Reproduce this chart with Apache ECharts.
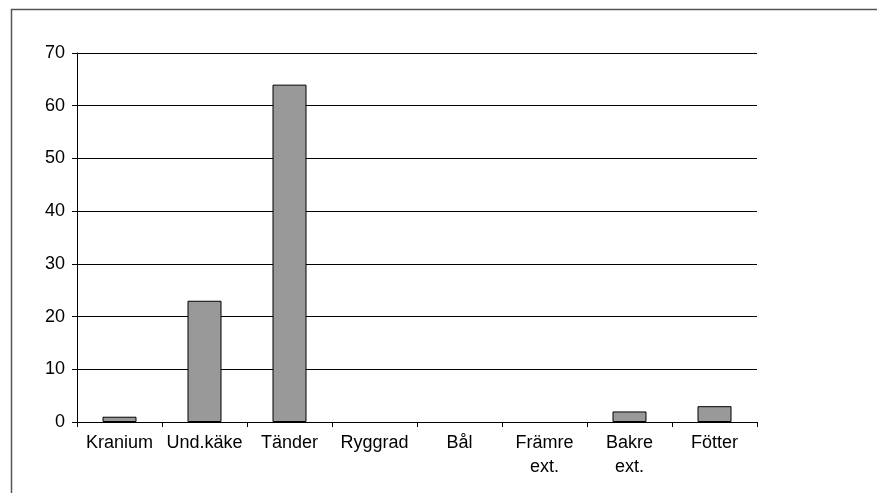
<!DOCTYPE html>
<html>
<head>
<meta charset="utf-8">
<script src="https://cdn.jsdelivr.net/npm/echarts@6/dist/echarts.min.js"></script>
<style>
  html, body { margin: 0; padding: 0; background: #fff; }
  #chart { width: 877px; height: 493px; }
</style>
</head>
<body>
<div id="chart"></div>
<script>
// data
const categories = ['Kranium', 'Und.käke', 'Tänder', 'Ryggrad', 'Bål', 'Främre\next.', 'Bakre\next.', 'Fötter'];
const values = [1, 23, 64, 0, 0, 0, 2, 3];
const yMin = 0;
const yMax = 70;
const yStep = 10;

const chart = echarts.init(document.getElementById('chart'), null, { renderer: 'canvas' });

const font = 'Liberation Sans, Arial, sans-serif';

const option = {
  animation: false,
  backgroundColor: '#fff',
  graphic: [
    // outer chart frame (only top and left edges are visible)
    {
      type: 'polyline',
      shape: { points: [[11.5, 493], [11.5, 9.5], [877, 9.5]] },
      style: { stroke: '#555', lineWidth: 1.5, fill: null },
      silent: true
    }
  ],
  grid: {
    left: 77,
    right: 120,
    top: 53,
    bottom: 71,
    containLabel: false
  },
  xAxis: {
    type: 'category',
    data: categories,
    axisLine: { lineStyle: { color: '#000', width: 1 } },
    axisTick: {
      show: true,
      alignWithLabel: false,
      length: 5,
      lineStyle: { color: '#000' }
    },
    axisLabel: {
      color: '#000',
      fontFamily: font,
      fontSize: 18,
      lineHeight: 24,
      margin: 9,
      interval: 0
    },
    splitLine: { show: false }
  },
  yAxis: {
    type: 'value',
    min: yMin,
    max: yMax,
    interval: yStep,
    axisLine: { show: true, lineStyle: { color: '#000', width: 1 } },
    axisTick: { show: true, length: 5, lineStyle: { color: '#000' } },
    axisLabel: {
      color: '#000',
      fontFamily: font,
      fontSize: 18,
      margin: 12
    },
    splitLine: { show: true, lineStyle: { color: '#000', width: 1 } }
  },
  series: [{
    type: 'bar',
    // zero bars get no outline so they vanish into the axis
    data: values.map(v => ({
      value: v,
      itemStyle: v === 0 ? { borderWidth: 0 } : undefined
    })),
    barWidth: 34,
    itemStyle: {
      color: '#999999',
      borderColor: '#000',
      borderWidth: 1
    }
  }]
};

chart.setOption(option);
</script>
</body>
</html>
